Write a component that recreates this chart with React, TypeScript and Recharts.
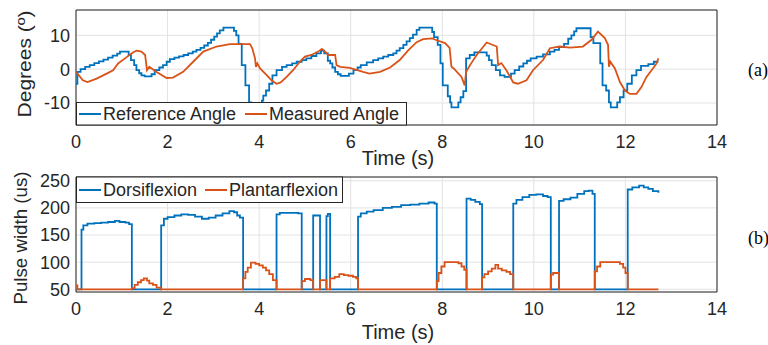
import { LineChart, Line, XAxis, YAxis, CartesianGrid, ReferenceArea } from "recharts";

const BLUE = "#0072BD";
const ORANGE = "#D95319";
const INK = "#262626";
const GRID = "#e3e3e3";
const FONT = "'Liberation Sans', Arial, Helvetica, sans-serif";

const timeTicks = [0, 2, 4, 6, 8, 10, 12, 14];
const angleTicks = [-10, 0, 10];
const pulseTicks = [50, 100, 150, 200, 250];

// [time (s), degrees]
const referenceAngle: [number, number][] = [
  [0, -4.3], [0.03, -0.8], [0.1, 0.0], [0.2, 0.7], [0.3, 1.2], [0.4, 1.8], [0.5, 2.3], [0.6, 2.8],
  [0.7, 3.4], [0.8, 4.0], [0.9, 4.6], [0.96, 5.2], [1.15, 4.2], [1.2, 2.7], [1.27, 1.2], [1.32, -0.3],
  [1.38, -1.2], [1.43, -1.8], [1.5, -2.1], [1.65, -1.5], [1.72, -0.3], [1.82, 0.5], [1.9, 1.2], [1.98, 2.2],
  [2.05, 3.0], [2.15, 3.4], [2.25, 3.8], [2.35, 4.2], [2.45, 4.7], [2.55, 5.2], [2.63, 5.7], [2.72, 6.3],
  [2.8, 7.0], [2.88, 7.8], [2.95, 8.7], [3.02, 9.6], [3.08, 10.6], [3.14, 11.5], [3.22, 12.3], [3.45, 11.3],
  [3.5, 10.0], [3.55, 7.5], [3.62, 1.2], [3.7, -4.8], [3.78, -9.8], [3.83, -10.5], [4.06, -9.3], [4.09, -7.8],
  [4.15, -6.3], [4.22, -4.3], [4.29, -1.8], [4.38, -0.3], [4.5, 0.7], [4.6, 1.2], [4.72, 1.7], [4.82, 2.2],
  [4.93, 2.7], [5.03, 3.2], [5.14, 3.9], [5.25, 4.7], [5.35, 5.5], [5.42, 4.7], [5.5, 2.5], [5.55, 1.7],
  [5.6, 0.5], [5.66, -0.8], [5.72, -1.5], [5.78, -2.0], [5.96, -1.3], [6.06, -0.3], [6.15, 0.5], [6.22, 1.2],
  [6.35, 2.0], [6.49, 2.7], [6.6, 3.2], [6.71, 3.7], [6.82, 4.2], [6.93, 4.7], [7.0, 5.5], [7.07, 6.2],
  [7.15, 7.2], [7.22, 8.2], [7.29, 9.2], [7.36, 10.2], [7.44, 11.6], [7.5, 12.3], [7.78, 11.0], [7.82, 9.5],
  [7.9, 7.2], [7.96, 1.7], [8.01, -4.8], [8.12, -8.0], [8.17, -9.8], [8.2, -11.3], [8.35, -9.8], [8.4, -8.3],
  [8.46, -6.5], [8.52, 3.2], [8.6, 4.2], [8.7, 5.0], [8.97, 4.0], [9.02, 2.7], [9.08, 1.2], [9.17, -0.3],
  [9.26, -1.8], [9.36, -2.3], [9.5, -1.3], [9.58, -0.3], [9.68, 0.8], [9.77, 1.7], [9.85, 2.5], [9.93, 3.2],
  [10.06, 3.7], [10.2, 4.4], [10.35, 5.2], [10.45, 5.7], [10.55, 6.5], [10.66, 7.5], [10.75, 9.0], [10.82, 10.0],
  [10.88, 11.2], [10.93, 12.1], [11.24, 9.5], [11.3, 7.7], [11.45, 1.7], [11.5, -4.8], [11.58, -6.3], [11.64, -9.8],
  [11.68, -11.3], [11.82, -9.8], [11.88, -8.3], [11.96, -6.3], [12.04, -4.3], [12.14, -1.8], [12.24, -0.3], [12.34, 1.0],
  [12.5, 1.5], [12.62, 2.2], [12.72, 2.2],
];

const measuredAngle: [number, number][] = [
  [0, -0.8], [0.15, -3.3], [0.25, -3.8], [0.45, -2.8], [0.67, -1.3], [0.81, -0.3], [0.92, 1.7], [1.07, 3.2],
  [1.22, 4.7], [1.32, 5.5], [1.43, 5.2], [1.51, 4.2], [1.55, -0.3], [1.6, 0.7], [1.76, -0.8], [1.98, -2.6],
  [2.12, -2.5], [2.34, -0.8], [2.56, 2.2], [2.78, 5.2], [3.07, 6.7], [3.36, 7.4], [3.8, 7.4], [3.85, 6.2],
  [3.91, 3.2], [3.93, 0.7], [3.96, 1.7], [4.02, 0.2], [4.17, -1.8], [4.27, -3.3], [4.38, -4.3], [4.47, -3.9],
  [4.6, -2.3], [4.74, -0.3], [4.89, 2.2], [5.0, 3.7], [5.14, 4.2], [5.29, 5.2], [5.37, 6.0], [5.44, 5.2],
  [5.51, 4.2], [5.66, 4.2], [5.69, 1.2], [5.77, 0.7], [5.98, 0.4], [6.27, -0.8], [6.41, -1.3], [6.64, -0.8],
  [6.86, 0.5], [7.07, 2.7], [7.25, 5.5], [7.44, 8.0], [7.58, 8.9], [7.78, 9.1], [7.85, 8.7], [8.06, 7.7],
  [8.16, 6.3], [8.2, 0.7], [8.25, 0.2], [8.42, -2.3], [8.49, -4.8], [8.52, -0.8], [8.62, 1.5], [8.75, 4.2],
  [8.97, 7.9], [9.19, 6.7], [9.22, 1.2], [9.29, 1.8], [9.4, -0.3], [9.55, -3.9], [9.65, -4.3], [9.84, -3.3],
  [9.98, -0.3], [10.2, 2.7], [10.35, 6.2], [10.57, 6.7], [10.79, 6.4], [11.07, 6.7], [11.26, 8.7], [11.4, 11.1],
  [11.55, 9.2], [11.62, 7.2], [11.64, 0.7], [11.67, 2.2], [11.77, 0.2], [11.88, -3.8], [11.99, -6.3], [12.1, -7.3],
  [12.24, -7.3], [12.35, -5.3], [12.46, -2.3], [12.6, 0.2], [12.68, 1.7], [12.72, 3.2],
];

// [time (s), pulse width (us)]
const dorsiflexion: [number, number][] = [
  [0, 50], [0.12, 160], [0.16, 168], [0.25, 171], [0.4, 172], [0.55, 173], [0.7, 174], [0.85, 176],
  [0.95, 174], [1.08, 173], [1.16, 170], [1.22, 50], [1.86, 168], [1.92, 180], [2.0, 183], [2.15, 186],
  [2.3, 188], [2.45, 187], [2.6, 184], [2.75, 180], [2.9, 182], [3.05, 186], [3.2, 190], [3.35, 194],
  [3.45, 192], [3.52, 186], [3.58, 182], [3.65, 50], [4.38, 188], [4.45, 191], [4.7, 191], [4.85, 190],
  [4.93, 50], [5.18, 186], [5.33, 50], [5.47, 185], [5.5, 189], [5.55, 50], [6.16, 184], [6.22, 190],
  [6.35, 193], [6.5, 196], [6.7, 200], [6.9, 202], [7.1, 205], [7.3, 206], [7.5, 208], [7.7, 210],
  [7.83, 208], [7.88, 50], [8.53, 217], [8.62, 215], [8.72, 211], [8.82, 207], [8.87, 50], [9.55, 208],
  [9.62, 215], [9.75, 220], [9.9, 224], [10.05, 225], [10.2, 222], [10.3, 220], [10.37, 50], [10.55, 213],
  [10.65, 216], [10.8, 219], [10.95, 226], [11.1, 231], [11.2, 232], [11.28, 226], [11.33, 50], [12.05, 234],
  [12.15, 238], [12.3, 241], [12.4, 238], [12.5, 235], [12.6, 231], [12.72, 228],
];

const plantarflexion: [number, number][] = [
  [0, 57], [0.03, 50], [1.22, 52], [1.28, 58], [1.35, 63], [1.42, 67], [1.48, 70], [1.55, 66],
  [1.6, 61], [1.68, 58], [1.76, 53], [1.86, 50], [3.65, 70], [3.7, 82], [3.75, 90], [3.82, 99],
  [3.92, 97], [4.0, 94], [4.08, 90], [4.15, 85], [4.22, 78], [4.3, 67], [4.38, 50], [4.93, 65],
  [5.0, 69], [5.12, 67], [5.18, 50], [5.33, 67], [5.47, 50], [5.55, 70], [5.65, 73], [5.75, 78],
  [5.85, 76], [5.95, 75], [6.05, 73], [6.12, 70], [6.16, 50], [7.88, 65], [7.92, 80], [7.98, 92],
  [8.05, 100], [8.35, 98], [8.42, 92], [8.48, 86], [8.53, 50], [8.87, 72], [8.92, 78], [9.0, 83],
  [9.08, 88], [9.16, 95], [9.22, 88], [9.3, 85], [9.4, 82], [9.48, 78], [9.55, 50], [10.37, 77],
  [10.42, 80], [10.55, 50], [11.33, 83], [11.38, 92], [11.45, 100], [11.88, 97], [11.95, 90], [12.0, 80],
  [12.05, 50], [12.72, 50],
];

const angleDomain: [number, number] = [-16.5, 17.5];
const pulseDomain: [number, number] = [45, 257];

const rows = (pts: [number, number][]) => pts.map(([t, v]) => ({ t, v }));
const tickStyle = { fontSize: 18, fill: INK, fontFamily: FONT };

function Panel({
  height,
  margin,
  domain,
  yTicks,
  series,
}: {
  height: number;
  margin: { top: number; right: number; bottom: number; left: number };
  domain: [number, number];
  yTicks: number[];
  series: { data: [number, number][]; color: string; type: "linear" | "stepAfter" }[];
}) {
  return (
    <LineChart width={768} height={height} margin={margin}>
      <CartesianGrid stroke={GRID} strokeWidth={1} />
      <XAxis
        dataKey="t"
        type="number"
        domain={[0, 14]}
        ticks={timeTicks}
        allowDataOverflow
        height={30}
        tickLine={false}
        axisLine={false}
        tickMargin={4}
        tick={tickStyle}
      />
      <XAxis xAxisId="top" orientation="top" type="number" domain={[0, 14]} ticks={timeTicks} allowDataOverflow mirror height={0} tick={false} axisLine={false} tickSize={5} stroke={INK} />
      <XAxis xAxisId="inb" type="number" domain={[0, 14]} ticks={timeTicks} allowDataOverflow mirror height={0} tick={false} axisLine={false} tickSize={5} stroke={INK} />
      <YAxis
        type="number"
        domain={domain}
        ticks={yTicks}
        allowDataOverflow
        width={76}
        tickLine={false}
        axisLine={false}
        tickMargin={0}
        tick={tickStyle}
      />
      <YAxis yAxisId="right" orientation="right" type="number" domain={domain} ticks={yTicks} allowDataOverflow mirror width={0} tick={false} axisLine={false} tickSize={5} stroke={INK} />
      <YAxis yAxisId="inl" type="number" domain={domain} ticks={yTicks} allowDataOverflow mirror width={0} tick={false} axisLine={false} tickSize={5} stroke={INK} />
      {series.map((s, i) => (
        <Line
          key={i}
          data={rows(s.data)}
          dataKey="v"
          type={s.type}
          stroke={s.color}
          strokeWidth={1.8}
          dot={false}
          isAnimationActive={false}
        />
      ))}
      <ReferenceArea x1={0} x2={14} y1={domain[0]} y2={domain[1]} fill="none" fillOpacity={0} stroke={INK} strokeWidth={1} ifOverflow="visible" />
    </LineChart>
  );
}

export default function App() {
  const txt = { fontFamily: FONT, fill: INK } as const;
  return (
    <div style={{ position: "absolute", left: 0, top: 0, width: 768, height: 345, background: "#fff" }}>
      <div style={{ position: "absolute", left: 0, top: 0 }}>
        <Panel
          height={170}
          margin={{ top: 10, right: 51, bottom: 15, left: 0 }}
          domain={angleDomain}
          yTicks={angleTicks}
          series={[
            { data: referenceAngle, color: BLUE, type: "stepAfter" },
            { data: measuredAngle, color: ORANGE, type: "linear" },
          ]}
        />
      </div>
      <div style={{ position: "absolute", left: 0, top: 170 }}>
        <Panel
          height={175}
          margin={{ top: 7, right: 51, bottom: 23, left: 0 }}
          domain={pulseDomain}
          yTicks={pulseTicks}
          series={[
            { data: dorsiflexion, color: BLUE, type: "stepAfter" },
            { data: plantarflexion, color: ORANGE, type: "stepAfter" },
          ]}
        />
      </div>
      <svg width={768} height={345} style={{ position: "absolute", left: 0, top: 0, pointerEvents: "none" }}>
        {/* legend (a) */}
        <rect x={76.5} y={102.5} width={330} height={22.5} fill="#fff" stroke={INK} strokeWidth={1} />
        <line x1={79} x2={101} y1={114} y2={114} stroke={BLUE} strokeWidth={2} />
        <text x={103} y={120} fontSize={18} {...txt}>Reference Angle</text>
        <line x1={245} x2={267} y1={114} y2={114} stroke={ORANGE} strokeWidth={2} />
        <text x={269} y={120} fontSize={18} {...txt}>Measured Angle</text>
        {/* legend (b) */}
        <rect x={76.5} y={177} width={266} height={25.5} fill="#fff" stroke={INK} strokeWidth={1} />
        <line x1={79} x2={101} y1={190} y2={190} stroke={BLUE} strokeWidth={2} />
        <text x={103} y={196} fontSize={18} {...txt}>Dorsiflexion</text>
        <line x1={205} x2={227} y1={190} y2={190} stroke={ORANGE} strokeWidth={2} />
        <text x={229} y={196} fontSize={18} {...txt}>Plantarflexion</text>
        {/* axis titles */}
        <text x={398} y={165} fontSize={20} textAnchor="middle" {...txt}>Time (s)</text>
        <text x={398} y={339} fontSize={20} textAnchor="middle" {...txt}>Time (s)</text>
        <text transform="translate(31,64) rotate(-90)" fontSize={18} textAnchor="middle" textLength={107} lengthAdjust="spacingAndGlyphs" {...txt}>Degrees (º)</text>
        <text transform="translate(27,238) rotate(-90)" fontSize={18} textAnchor="middle" textLength={133} lengthAdjust="spacingAndGlyphs" {...txt}>Pulse width (us)</text>
        <text x={748} y={76} fontSize={18} fontFamily="'Liberation Serif', 'Times New Roman', serif" fill="#000">(a)</text>
        <text x={748} y={244} fontSize={18} fontFamily="'Liberation Serif', 'Times New Roman', serif" fill="#000">(b)</text>
      </svg>
    </div>
  );
}
